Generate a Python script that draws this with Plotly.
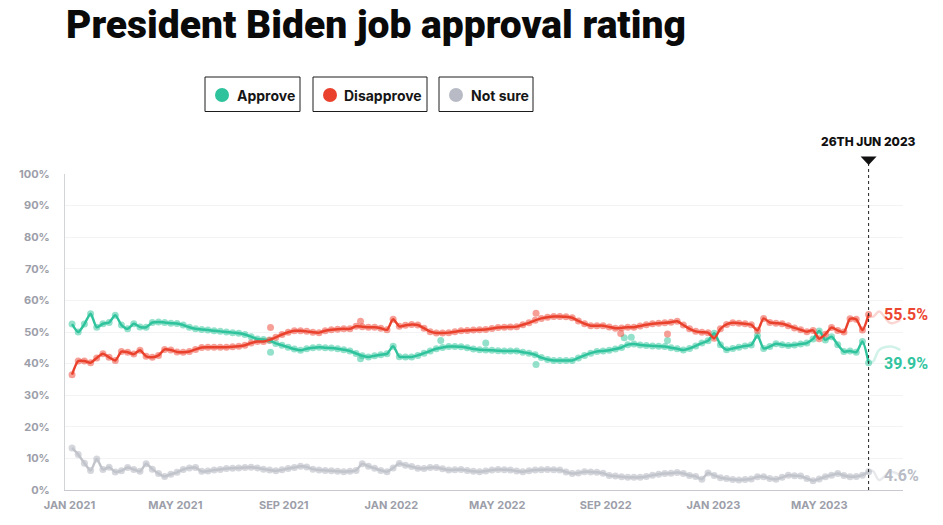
import pandas as pd
import plotly.graph_objects as go

# ---------------- data ----------------
dates = pd.date_range(end="2023-06-26", periods=130, freq="7D")

approve = [
    52.5, 50.0, 52.5, 55.8, 51.5, 52.6, 53.0, 55.3, 52.2, 51.0,
    52.6, 51.6, 51.5, 53.0, 53.2, 53.0, 52.8, 52.7, 52.2, 51.5,
    51.0, 50.8, 50.6, 50.4, 50.2, 50.0, 49.8, 49.6, 49.2, 48.5,
    47.8, 47.6, 47.3, 46.4, 45.8, 45.2, 44.6, 44.2, 44.7, 45.0,
    45.2, 45.0, 44.9, 44.7, 44.4, 44.0, 43.2, 42.5, 42.1, 42.5,
    42.8, 43.1, 45.5, 42.2, 42.1, 42.1, 42.6, 43.3, 44.0, 44.7,
    45.1, 45.4, 45.4, 45.3, 45.0, 44.6, 44.4, 44.3, 44.2, 44.1,
    44.0, 44.0, 44.0, 43.6, 43.3, 42.8, 41.9, 41.3, 41.0, 41.0,
    41.0, 41.0, 41.8, 42.6, 43.3, 43.8, 44.0, 44.2, 44.6, 45.1,
    46.0, 46.2, 45.9, 45.7, 45.6, 45.5, 45.4, 45.0, 44.7, 44.3,
    44.8, 45.6, 46.5, 47.2, 49.6, 46.0, 44.4, 44.8, 45.2, 45.6,
    45.9, 48.9, 44.8, 45.4, 46.3, 46.0, 45.7, 45.9, 46.2, 46.5,
    47.8, 50.3, 47.5, 48.5, 46.0, 43.8, 44.0, 43.6, 47.0, 40.3,
]

disapprove = [
    36.5, 40.8, 40.8, 40.3, 41.8, 43.1, 42.0, 41.0, 43.8, 43.6,
    43.0, 44.2, 42.3, 42.0, 42.6, 44.5, 44.3, 43.7, 43.6, 43.8,
    44.5, 45.1, 45.2, 45.2, 45.2, 45.2, 45.3, 45.5, 45.8, 46.5,
    47.0, 47.0, 47.5, 48.3, 49.2, 49.9, 50.4, 50.4, 50.2, 49.9,
    49.8, 50.4, 50.7, 50.9, 51.0, 51.0, 51.8, 51.7, 51.5, 51.5,
    51.2, 50.7, 54.0, 51.8, 52.1, 52.4, 52.2, 51.2, 50.1, 49.7,
    49.7, 49.8, 50.1, 50.4, 50.5, 50.6, 50.7, 50.8, 51.1, 51.4,
    51.5, 51.6, 51.7, 52.3, 52.9, 53.7, 54.3, 54.7, 54.9, 54.9,
    54.8, 54.5, 53.5, 52.6, 52.0, 52.0, 52.0, 51.6, 51.2, 51.3,
    51.5, 51.5, 51.9, 52.3, 52.6, 52.8, 52.9, 53.1, 53.4, 52.2,
    51.0, 50.2, 49.9, 49.8, 48.0, 51.0, 52.4, 52.9, 52.8, 52.6,
    52.3, 50.5, 54.3, 53.0, 52.8, 52.6, 52.0, 51.3, 50.7, 50.1,
    50.5, 47.9, 49.3, 51.4, 50.5, 50.0, 54.2, 54.0, 50.6, 55.5,
]

not_sure = [
    13.3, 11.2, 8.5, 6.2, 9.8, 6.5, 7.2, 5.7, 6.1, 7.1,
    6.5, 5.9, 8.3, 6.6, 5.2, 4.3, 5.0, 5.6, 6.5, 7.0,
    7.1, 5.9, 6.0, 6.3, 6.5, 6.8, 6.9, 7.0, 7.1, 7.2,
    7.0, 6.6, 6.3, 6.1, 6.4, 6.8, 7.1, 7.5, 7.3, 6.6,
    6.3, 6.2, 6.1, 5.9, 5.8, 5.9, 6.2, 8.3, 7.5, 6.9,
    6.2, 5.8, 7.0, 8.4, 7.8, 7.4, 6.9, 6.8, 7.1, 7.1,
    6.7, 6.3, 6.4, 6.5, 6.2, 5.9, 5.8, 6.0, 6.3, 6.5,
    6.4, 6.3, 6.0, 5.8, 6.1, 6.3, 6.4, 6.5, 6.4, 6.3,
    5.7, 5.2, 5.4, 5.8, 5.7, 5.6, 5.3, 4.6, 4.4, 4.2,
    4.0, 4.0, 4.0, 4.3, 4.7, 5.0, 5.2, 5.3, 5.5, 5.2,
    4.6, 4.3, 3.4, 5.4, 4.6, 3.9, 3.6, 3.3, 3.2, 3.3,
    3.5, 4.2, 4.2, 3.6, 3.4, 4.0, 4.7, 4.5, 4.4, 3.6,
    2.9, 3.5, 4.2, 4.7, 5.2, 4.6, 4.2, 4.3, 4.7, 5.8,
]

# individual polls lying off the trend line
approve_poll_dates = ["2021-08-17", "2021-11-27", "2022-02-26", "2022-04-18",
                      "2022-06-14", "2022-09-22", "2022-09-30", "2022-11-10"]
approve_poll_vals = [43.6, 41.5, 47.3, 46.5, 39.7, 48.2, 48.3, 47.3]
disapprove_poll_dates = ["2021-08-17", "2021-11-27", "2022-06-14",
                         "2022-09-18", "2022-11-10"]
disapprove_poll_vals = [51.4, 53.4, 55.9, 49.5, 49.4]

# faded values after the marker date
after_dates = ["2023-06-26", "2023-07-01", "2023-07-08", "2023-07-21", "2023-08-01"]
approve_after = [40.3, 40.6, 44.3, 45.4, 44.3]
disapprove_after = [55.5, 54.8, 56.5, 52.8, 53.9]
not_sure_after = [5.8, 6.0, 3.2, 5.8, 4.6]

marker_date = "2023-06-26"
marker_label = "26TH JUN 2023"
end_labels = {"Approve": "39.9%", "Disapprove": "55.5%", "Not sure": "4.6%"}
end_values = {"Approve": 39.9, "Disapprove": 55.5, "Not sure": 4.6}

ytick_vals = [0, 10, 20, 30, 40, 50, 60, 70, 80, 90, 100]
ytick_text = ["0%", "10%", "20%", "30%", "40%", "50%", "60%", "70%", "80%", "90%", "100%"]
xtick_vals = ["2021-01-01", "2021-05-01", "2021-09-01", "2022-01-01", "2022-05-01",
              "2022-09-01", "2023-01-01", "2023-05-01"]
xtick_text = ["JAN 2021", "MAY 2021", "SEP 2021", "JAN 2022", "MAY 2022",
              "SEP 2022", "JAN 2023", "MAY 2023"]

# ---------------- style ----------------
W, H = 943, 525
ML, MR, MT, MB = 65, 40, 174, 35
PW, PH = W - ML - MR, H - MT - MB

GREEN, RED, GREY = "#2ec39c", "#ea412d", "#c2c4cb"
GREEN_DOT, RED_DOT, GREY_DOT = "rgba(60,200,160,0.55)", "rgba(238,80,65,0.55)", "rgba(185,188,198,0.6)"
GREEN_FADE, RED_FADE, GREY_FADE = "rgba(46,195,156,0.22)", "rgba(234,65,45,0.22)", "rgba(190,193,201,0.35)"
TICK = "#9c9ea9"
FONT = "Inter"


def pxx(x):
    return (x - ML) / PW


def pyy(y):
    return (H - MB - y) / PH


fig = go.Figure()

series = [
    ("Approve", approve, GREEN, GREEN_DOT, GREEN_FADE, approve_after),
    ("Disapprove", disapprove, RED, RED_DOT, RED_FADE, disapprove_after),
    ("Not sure", not_sure, GREY, GREY_DOT, GREY_FADE, not_sure_after),
]

# faded continuation
for name, vals, col, dot, fade, after in series:
    fig.add_trace(go.Scatter(x=after_dates, y=after, mode="lines",
                             line=dict(color=fade, width=2.5, shape="spline"),
                             hoverinfo="skip", showlegend=False))

# poll dots
for name, vals, col, dot, fade, after in series:
    fig.add_trace(go.Scatter(x=dates, y=vals, mode="markers",
                             marker=dict(color=dot, size=7),
                             hoverinfo="skip", showlegend=False))
fig.add_trace(go.Scatter(x=approve_poll_dates, y=approve_poll_vals, mode="markers",
                         marker=dict(color=GREEN_DOT, size=7), showlegend=False))
fig.add_trace(go.Scatter(x=disapprove_poll_dates, y=disapprove_poll_vals, mode="markers",
                         marker=dict(color=RED_DOT, size=7), showlegend=False))

# trend lines
for name, vals, col, dot, fade, after in series:
    fig.add_trace(go.Scatter(x=dates, y=vals, mode="lines", name=name,
                             line=dict(color=col, width=2.5, shape="spline", smoothing=0.7),
                             showlegend=False))

shapes = []
# dashed marker line
shapes.append(dict(type="line", xref="x", yref="paper", x0=marker_date, x1=marker_date,
                   y0=0, y1=pyy(163), line=dict(color="#222222", width=1, dash="3px,3px")))
# triangle above dashed line
shapes.append(dict(type="path", xref="x", xsizemode="pixel", xanchor=marker_date,
                   yref="paper", ysizemode="pixel", yanchor=pyy(160.5),
                   path="M-8,4 L8,4 L0,-4.5 Z",
                   fillcolor="#111111", line=dict(width=0)))

# legend boxes
legend_items = [
    ("Approve", GREEN, 205, 300, 222, 235),
    ("Disapprove", RED, 313, 427, 330, 342),
    ("Not sure", "#b8bbc5", 439, 533, 456, 469),
]
annotations = []
for label, col, x0, x1, cx, tx in legend_items:
    shapes.append(dict(type="rect", xref="paper", yref="paper",
                       x0=pxx(x0), x1=pxx(x1), y0=pyy(111.5), y1=pyy(77),
                       line=dict(color="#1c1c1c", width=1), fillcolor="white", layer="above"))
    shapes.append(dict(type="circle", xref="paper", yref="paper",
                       x0=pxx(cx - 7), x1=pxx(cx + 7), y0=pyy(102), y1=pyy(88),
                       line=dict(width=0), fillcolor=col, layer="above"))
    annotations.append(dict(text=label, xref="paper", yref="paper", x=pxx(tx), y=pyy(95),
                            xanchor="left", yanchor="middle", showarrow=False,
                            font=dict(family=FONT, size=14, color="#161616", weight=700)))

# title
annotations.append(dict(text="President Biden job approval rating", xref="paper", yref="paper",
                        x=pxx(64), y=pyy(25), xanchor="left", yanchor="middle", showarrow=False,
                        font=dict(family="Roboto", size=39, color="#0a0a0a", weight=900)))

# marker date label
annotations.append(dict(text=marker_label, xref="x", yref="paper", x=marker_date, y=pyy(142),
                        xanchor="center", yanchor="middle", showarrow=False,
                        font=dict(family=FONT, size=12, color="#111111", weight=800)))

# end labels
label_cols = {"Approve": "#33c49f", "Disapprove": "#ec4631", "Not sure": "#b9bcc5"}
for name in ["Disapprove", "Approve", "Not sure"]:
    annotations.append(dict(text=end_labels[name], xref="x", yref="y", x=marker_date,
                            y=end_values[name], xanchor="left", yanchor="middle", xshift=13,
                            showarrow=False,
                            font=dict(family="Roboto", size=16, color=label_cols[name], weight=700)))

fig.update_layout(
    width=W, height=H,
    margin=dict(l=ML, r=MR, t=MT, b=MB, pad=0),
    paper_bgcolor="white", plot_bgcolor="white",
    shapes=shapes, annotations=annotations,
    showlegend=False,
    xaxis=dict(type="date", range=["2020-12-27", "2023-08-04"],
               tickvals=xtick_vals, ticktext=xtick_text,
               showgrid=False, zeroline=False,
               showline=True, linecolor="#c9cacf", linewidth=1,
               ticks="outside", ticklen=5, tickcolor="rgba(0,0,0,0)",
               tickfont=dict(family=FONT, size=11, color=TICK, weight=700)),
    yaxis=dict(range=[0, 100], tickvals=ytick_vals, ticktext=ytick_text,
               showgrid=True, gridcolor="#f3f3f5", gridwidth=1, zeroline=False,
               showline=True, linecolor="#d3d4d8", linewidth=1,
               ticks="outside", ticklen=12, tickcolor="rgba(0,0,0,0)",
               tickfont=dict(family=FONT, size=11, color=TICK, weight=700)),
)

fig.write_html("out.html")
